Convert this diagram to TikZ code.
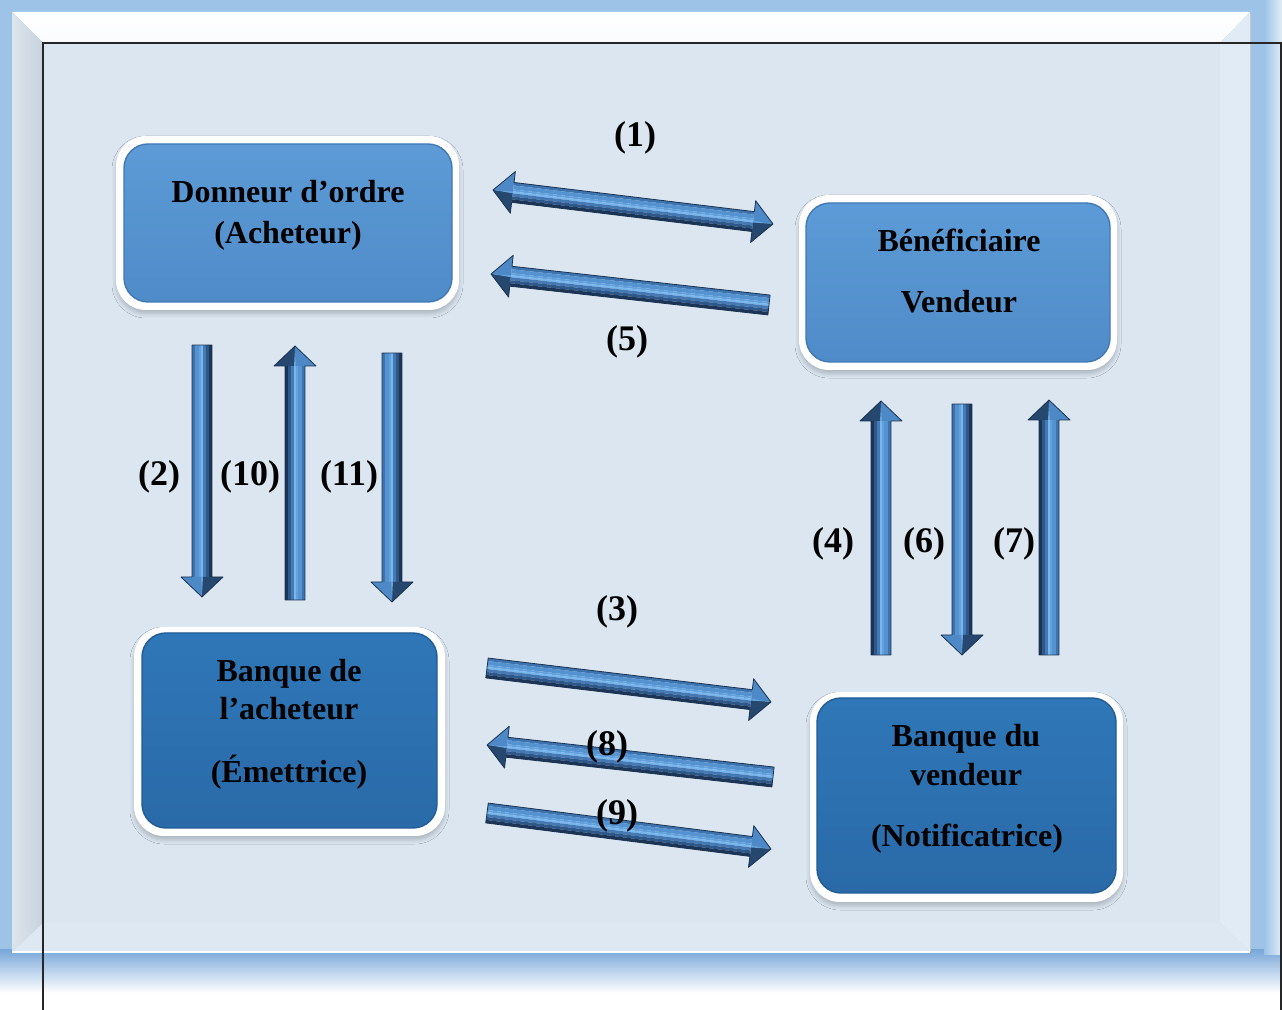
\documentclass[tikz,border=0pt]{standalone}
\usepackage{fontspec}
\setmainfont{Liberation Serif}
\usetikzlibrary{shadows.blur}

% palette
\definecolor{glow}{HTML}{9DC3E6}
\definecolor{glowdeep}{HTML}{7BA8DA}
\definecolor{face}{HTML}{DBE6F1}
\definecolor{bevelL}{HTML}{C7D2DD}
\definecolor{bevelLo}{HTML}{DDE5EC}
\definecolor{bevelB}{HTML}{DDE8F2}
\definecolor{bevelR}{HTML}{E0EBF5}
\definecolor{boxA}{HTML}{5C9BD7}
\definecolor{boxAlo}{HTML}{4F8BC8}
\definecolor{boxAedge}{HTML}{4279B3}
\definecolor{boxB}{HTML}{2F77B8}
\definecolor{boxBlo}{HTML}{2A6AA8}
\definecolor{boxBedge}{HTML}{215C96}
% fat arrow bands, light side to dark side
\definecolor{fbS1}{HTML}{3D73AE}
\definecolor{fbS2}{HTML}{5592D0}
\definecolor{fbS3}{HTML}{63A1DC}
\definecolor{fbRidge}{HTML}{78B6EE}
\definecolor{fbS5}{HTML}{4579B4}
\definecolor{fbS6}{HTML}{2E578A}
\definecolor{fbS7}{HTML}{1C3556}
\definecolor{fbHeadLo}{HTML}{4E89C7}
\definecolor{fbHeadHi}{HTML}{26486F}
\definecolor{fbLine}{HTML}{1B3250}

% fat arrow: name, tail x,y, tip x,y, number of heads (1/2), bevel side (1/-1)
\newcommand\fatarrow[7]{%
  \coordinate (#1-tail) at (#2,#3);
  \coordinate (#1-tip) at (#4,#5);
  \pgfmathsetmacro\faang{atan2((#3)-(#5),(#4)-(#2))}%
  \pgfmathsetmacro\falen{veclen((#4)-(#2),(#5)-(#3))}%
  \pgfmathsetmacro\faneck{\falen-20}%
  \ifnum#6=2 \def\fastart{20}\else\def\fastart{0}\fi
  \begin{scope}[shift={(#1-tail)},rotate=\faang,yscale=#7,x=0.5pt,y=0.5pt]
    % shaft bands
    \foreach \ya/\yb/\cc in {-10/-7/fbS1,-7/-3/fbS2,-3/-1/fbS3,-1/1/fbRidge,1/4/fbS5,4/7/fbS6,7/10/fbS7}
      \fill[\cc] (\fastart,\ya) rectangle (\faneck,\yb);
    % head facets
    \fill[fbHeadLo] (\faneck,-21) -- (\falen,0) -- (\faneck,0) -- cycle;
    \fill[fbHeadHi] (\faneck,0) -- (\falen,0) -- (\faneck,21) -- cycle;
    \fill[fbS3] (\faneck,-1) -- (\falen-3,0) -- (\faneck,1) -- cycle;
    \ifnum#6=2
      \fill[fbHeadLo] (20,-21) -- (0,0) -- (20,0) -- cycle;
      \fill[fbHeadHi] (20,0) -- (0,0) -- (20,21) -- cycle;
      \fill[fbS3] (20,-1) -- (3,0) -- (20,1) -- cycle;
      \draw[fbLine, line width=0.4pt, line join=round]
        (20,-10) -- (\faneck,-10) -- (\faneck,-21) -- (\falen,0) -- (\faneck,21)
        -- (\faneck,10) -- (20,10) -- (20,21) -- (0,0) -- (20,-21) -- cycle;
    \else
      \draw[fbLine, line width=0.4pt, line join=round]
        (0,-10) -- (\faneck,-10) -- (\faneck,-21) -- (\falen,0) -- (\faneck,21)
        -- (\faneck,10) -- (0,10) -- cycle;
    \fi
  \end{scope}
}

\tikzset{
  whiteframe/.style={fill=white, rounded corners=15pt, inner sep=0pt,
    blur shadow={shadow xshift=0pt, shadow yshift=-2pt,
      shadow blur radius=2pt, shadow opacity=20}},
  panelA/.style={top color=boxA, bottom color=boxAlo, draw=boxAedge,
    line width=0.7pt, rounded corners=12pt, inner sep=0pt},
  panelB/.style={top color=boxB, bottom color=boxBlo, draw=boxBedge,
    line width=0.7pt, rounded corners=12pt, inner sep=0pt},
  boxtext/.style={font=\fontsize{16}{19}\selectfont\bfseries, anchor=base, inner sep=0pt},
  lbl/.style={font=\fontsize{18}{21}\selectfont\bfseries, anchor=base, inner sep=0pt},
}

\begin{document}
\begin{tikzpicture}[x=0.5pt,y=-0.5pt]
\useasboundingbox (0,0) rectangle (1282,1010);

% blue glow behind the panel
\fill[glow] (0,0) rectangle (1282,1010);
\shade[top color=glowdeep, bottom color=white] (0,950) rectangle (1282,993);
\fill[white] (0,993) rectangle (1282,1010);
\shade[left color=glow, right color=glow!30] (1264,0) rectangle (1282,955);

% bevelled panel
\shade[top color=white, bottom color=white!85!face] (12,12) -- (1250,12) -- (1220,43) -- (43,43) -- cycle;
\shade[left color=bevelLo, right color=bevelL] (12,12) -- (43,43) -- (43,923) -- (12,952) -- cycle;
\fill[bevelB] (12,952) -- (43,923) -- (1220,923) -- (1250,952) -- cycle;
\fill[bevelR] (1250,12) -- (1250,952) -- (1220,923) -- (1220,43) -- cycle;
\fill[face] (43,43) rectangle (1220,923);
\draw[black!22, line width=0.5pt] (1250,14) -- (1250,951);
\draw[white, line width=0.6pt] (12,952) -- (1250,952);

% thin black frame line
\draw[black!85, line width=0.6pt] (43,1010) -- (43,43) -- (1281,43) -- (1281,1010);

% boxes
\node[whiteframe, minimum width=171.5pt, minimum height=87pt] (donF) at (287.5,223) {};
\node[panelA, minimum width=164pt, minimum height=79pt] (don) at (288,223) {};
\node[whiteframe, minimum width=159pt, minimum height=87.5pt] (benF) at (958,282.5) {};
\node[panelA, minimum width=152pt, minimum height=79.5pt] (ben) at (958,282.5) {};
\node[whiteframe, minimum width=155.5pt, minimum height=104.5pt] (bqaF) at (289.5,731.5) {};
\node[panelB, minimum width=147.5pt, minimum height=97.5pt] (bqa) at (289.5,730.5) {};
\node[whiteframe, minimum width=156.5pt, minimum height=105pt] (bqvF) at (966.5,797) {};
\node[panelB, minimum width=149.5pt, minimum height=97.5pt] (bqv) at (966.5,795.5) {};

% box texts
\node[boxtext] (don1) at (288,203) {Donneur d’ordre};
\node[boxtext] (don2) at (288,244) {(Acheteur)};
\node[boxtext] (ben1) at (959,252) {Bénéficiaire};
\node[boxtext] (ben2) at (959,313) {Vendeur};
\node[boxtext] (bqa1) at (289,682) {Banque de};
\node[boxtext] (bqa2) at (289,720) {l’acheteur};
\node[boxtext] (bqa3) at (289,783) {(Émettrice)};
\node[boxtext] (bqv1) at (966,747) {Banque du};
\node[boxtext] (bqv2) at (966,786) {vendeur};
\node[boxtext] (bqv3) at (967,847) {(Notificatrice)};

% flows between the parties
\fatarrow{f1}{493}{190}{773}{224}{2}{-1}
\fatarrow{f5}{769}{305}{491}{274}{1}{1}
\fatarrow{f3}{487}{668}{771}{702}{1}{-1}
\fatarrow{f8}{773}{777}{487}{745}{1}{1}
\fatarrow{f9}{487}{813}{771}{849}{1}{-1}
\fatarrow{f2}{202}{345}{202}{597}{1}{1}
\fatarrow{f10}{295}{600}{295}{346}{1}{1}
\fatarrow{f11}{392}{353}{392}{602}{1}{1}
\fatarrow{f4}{881}{655}{881}{401}{1}{1}
\fatarrow{f6}{962}{404}{962}{655}{1}{1}
\fatarrow{f7}{1049}{655}{1049}{400}{1}{1}

% step numbers
\node[lbl] (l1) at (635,147) {(1)};
\node[lbl] (l5) at (627,351) {(5)};
\node[lbl] (l2) at (159,486) {(2)};
\node[lbl] (l10) at (250,486) {(10)};
\node[lbl] (l11) at (349,486) {(11)};
\node[lbl] (l4) at (833,553) {(4)};
\node[lbl] (l6) at (924,553) {(6)};
\node[lbl] (l7) at (1014,553) {(7)};
\node[lbl] (l3) at (617,621) {(3)};
\node[lbl] (l8) at (607,756) {(8)};
\node[lbl] (l9) at (617,825) {(9)};
\end{tikzpicture}
\end{document}
